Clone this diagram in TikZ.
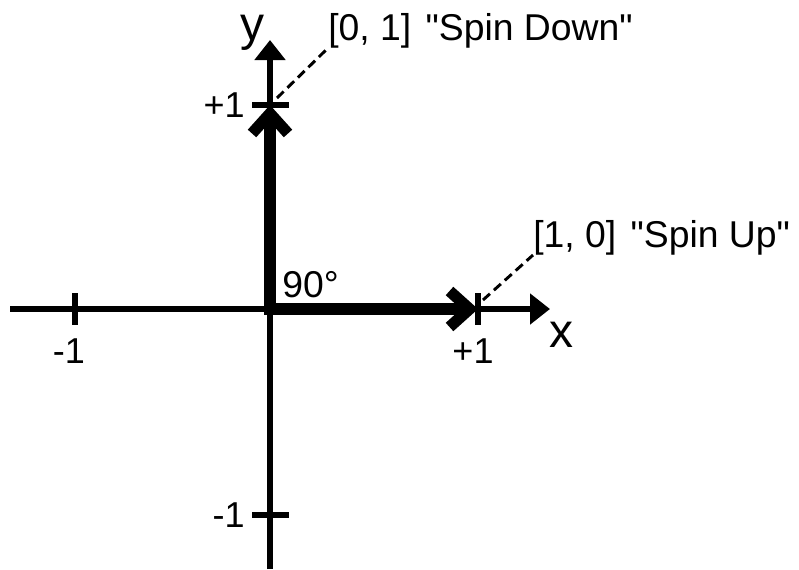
\documentclass[tikz,border=0pt]{standalone}
\usepackage{fontspec}
\setmainfont{Liberation Sans}[Ligatures=TeXOff]
\usetikzlibrary{arrows.meta}
\begin{document}
\begin{tikzpicture}[x=0.75pt, y=-0.75pt, line cap=butt, line join=miter,
    axis/.style={line width=4pt, -{Triangle[length=15pt, width=22.5pt]}},
    tick/.style={line width=4pt},
    spin/.style={line width=8.5pt, {Straight Barb[length=15pt, width=27pt, sharp]}-{Straight Barb[length=15pt, width=27pt, sharp]}},
    lbl/.style={inner sep=0pt, font=\fontsize{27}{32}\selectfont},
    stlbl/.style={inner sep=0pt, font=\fontsize{28}{33}\selectfont},
    axlbl/.style={inner sep=0pt, font=\fontsize{36}{40}\selectfont},
    guide/.style={line width=2.2pt, dash pattern=on 7pt off 4pt}]
  \useasboundingbox (0,0) rectangle (799,569);
  % axes
  \coordinate (O) at (270,309);
  \coordinate (xl) at (10,309);
  \coordinate (xr) at (550,309);
  \coordinate (yb) at (270,569);
  \coordinate (yt) at (270,40);
  \draw[axis] (xl) -- (xr);
  \draw[axis] (yb) -- (yt);
  \node[axlbl, anchor=base] (xlab) at (561,347) {x};
  \node[axlbl, anchor=base] (ylab) at (252,40) {y};
  % ticks
  \draw[tick] (75,293) -- (75,325);
  \draw[tick] (478,293) -- (478,325);
  \draw[tick] (252,105) -- (289,105);
  \draw[tick] (252,515) -- (289,515);
  \node[lbl, anchor=base] (xm) at (69,363) {-1};
  \node[lbl, anchor=base] (xp) at (473,363) {+1};
  \node[lbl, anchor=east] (yp) at (245,105) {+1};
  \node[lbl, anchor=east] (ym) at (245,515) {-1};
  % spin vectors
  \coordinate (up) at (478,309);
  \coordinate (down) at (270,105);
  \draw[spin] (down) -- (O) -- (up);
  \node[stlbl, anchor=base west] (ang) at (282,297) {90°};
  % states
  \node[stlbl, anchor=base west] (upl) at (533,247) {[1, 0]\hspace{3pt} "Spin Up"};
  \node[stlbl, anchor=base west] (downl) at (328,40) {[0, 1]\hspace{3pt} "Spin Down"};
  \draw[guide] (483,300) -- (upl.south west);
  \draw[guide] (277,98) -- (downl.south west);
\end{tikzpicture}
\end{document}
